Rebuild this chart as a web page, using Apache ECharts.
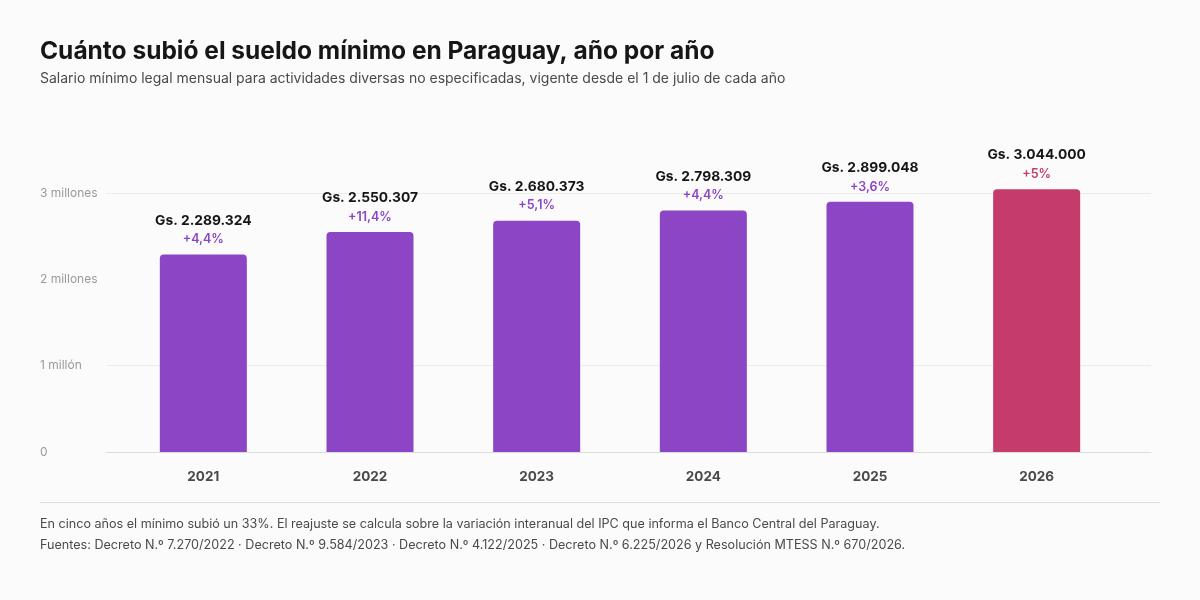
<!DOCTYPE html>
<html>
<head>
<meta charset="utf-8">
<script src="https://cdn.jsdelivr.net/npm/echarts@6/dist/echarts.min.js"></script>
<style>
  html, body { margin: 0; padding: 0; background: #fbfbfb; }
  #chart { width: 1200px; height: 600px; }
</style>
</head>
<body>
<div id="chart"></div>
<script>
var years = ['2021', '2022', '2023', '2024', '2025', '2026'];
var salaries = [2289324, 2550307, 2680373, 2798309, 2899048, 3044000];
var increases = [4.4, 11.4, 5.1, 4.4, 3.6, 5];
var yTicks = [0, 1000000, 2000000, 3000000];

var FONT = 'Inter';
var PURPLE = '#8b45c5';
var PINK = '#c53b6b';

function formatGs(v) {
    return 'Gs. ' + String(v).replace(/\B(?=(\d{3})+(?!\d))/g, '.');
}

function formatPct(p) {
    return '+' + String(p).replace('.', ',') + '%';
}

function yLabel(v) {
    if (yTicks.indexOf(v) < 0) return '';
    if (v === 0) return '0';
    var m = v / 1000000;
    return m === 1 ? '1 millón' : m + ' millones';
}

var barData = [];
for (var i = 0; i < salaries.length; i++) {
    var last = i === salaries.length - 1;
    barData.push({
        value: salaries[i],
        itemStyle: { color: last ? PINK : PURPLE }
    });
}

var dom = document.getElementById('chart');
var myChart = echarts.init(dom);
var option = {
    backgroundColor: '#fbfbfb',
    textStyle: { fontFamily: FONT },
    title: [
        {
            text: 'Cuánto subió el sueldo mínimo en Paraguay, año por año',
            left: 40,
            top: 39,
            padding: 0,
            textStyle: { fontFamily: FONT, fontSize: 24.5, fontWeight: 700, color: '#161616' }
        },
        {
            text: 'Salario mínimo legal mensual para actividades diversas no especificadas, vigente desde el 1 de julio de cada año',
            left: 40,
            top: 72,
            padding: 0,
            textStyle: { fontFamily: FONT, fontSize: 14, fontWeight: 400, color: '#4a4a4a' }
        }
    ],
    grid: [
        // gridlines and y labels
        { left: 106, right: 49, top: 150, bottom: 148 },
        // bars
        { left: 120, right: 80, top: 150, bottom: 148 }
    ],
    xAxis: [
        {
            gridIndex: 0,
            type: 'value',
            min: 0,
            max: 1,
            axisLine: { show: true, onZero: false, lineStyle: { color: '#dcdcdc', width: 1 } },
            axisTick: { show: false },
            axisLabel: { show: false },
            splitLine: { show: false }
        },
        {
            gridIndex: 1,
            type: 'category',
            data: years,
            axisLine: { show: false },
            axisTick: { show: false },
            axisLabel: {
                margin: 18,
                fontFamily: FONT,
                fontSize: 13.5,
                fontWeight: 700,
                color: '#4a4a4a'
            }
        }
    ],
    yAxis: [
        {
            gridIndex: 0,
            type: 'value',
            min: 0,
            max: 3500000,
            interval: 500000,
            axisLine: { show: false },
            axisTick: { show: false },
            axisLabel: {
                formatter: yLabel,
                align: 'left',
                margin: 66,
                fontFamily: FONT,
                fontSize: 12,
                color: '#9a9a9a'
            },
            splitLine: {
                lineStyle: { color: ['transparent', 'transparent', '#ececec', 'transparent'], width: 1 }
            }
        },
        {
            gridIndex: 1,
            type: 'value',
            min: 0,
            max: 3500000,
            show: false,
            splitLine: { show: false }
        }
    ],
    series: [
        {
            type: 'bar',
            xAxisIndex: 1,
            yAxisIndex: 1,
            data: barData,
            barWidth: 87,
            itemStyle: { borderRadius: [4, 4, 0, 0] },
            label: {
                show: true,
                position: 'top',
                distance: 6,
                formatter: function (p) {
                    var last = p.dataIndex === salaries.length - 1;
                    return '{v|' + formatGs(p.value) + '}\n{' + (last ? 'q' : 'p') + '|' +
                        formatPct(increases[p.dataIndex]) + '}';
                },
                rich: {
                    v: { fontFamily: FONT, fontSize: 13.8, fontWeight: 700, color: '#161616', lineHeight: 20 },
                    p: { fontFamily: FONT, fontSize: 12.5, fontWeight: 600, color: PURPLE, lineHeight: 18 },
                    q: { fontFamily: FONT, fontSize: 12.5, fontWeight: 600, color: PINK, lineHeight: 18 }
                }
            }
        }
    ],
    graphic: [
        {
            type: 'line',
            shape: { x1: 40, y1: 502.5, x2: 1160, y2: 502.5 },
            style: { stroke: '#dedede', lineWidth: 1 }
        },
        {
            type: 'text',
            left: 40,
            top: 518,
            style: {
                text: 'En cinco años el mínimo subió un 33%. El reajuste se calcula sobre la variación interanual del IPC que informa el Banco Central del Paraguay.',
                font: '400 12.6px ' + FONT,
                fill: '#4a4a4a'
            }
        },
        {
            type: 'text',
            left: 40,
            top: 539,
            style: {
                text: 'Fuentes: Decreto N.º 7.270/2022 · Decreto N.º 9.584/2023 · Decreto N.º 4.122/2025 · Decreto N.º 6.225/2026 y Resolución MTESS N.º 670/2026.',
                font: '400 12.6px ' + FONT,
                fill: '#4a4a4a'
            }
        }
    ]
};
if (option && typeof option === 'object') {
    myChart.setOption(option, true);
}
</script>
</body>
</html>
